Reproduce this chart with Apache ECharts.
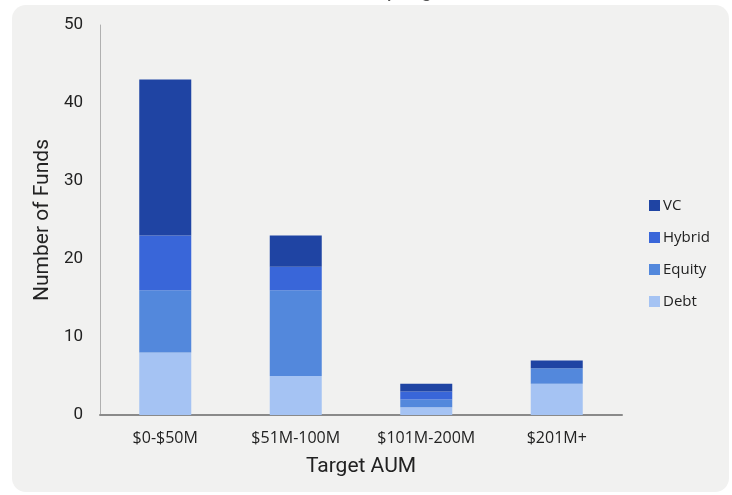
<!DOCTYPE html>
<html>
<head>
<meta charset="utf-8">
<script src="https://cdn.jsdelivr.net/npm/echarts@6/dist/echarts.min.js"></script>
<style>
  html, body { margin: 0; padding: 0; background: #ffffff; }
  #chart { width: 732px; height: 495px; }
</style>
</head>
<body>
<div id="chart"></div>
<script>
// Fund counts by target AUM bucket, stacked by strategy
const categories = ['$0-$50M', '$51M-100M', '$101M-200M', '$201M+'];
const debt   = [8, 5, 1, 4];
const equity = [8, 11, 1, 2];
const hybrid = [7, 3, 1, 0];
const vc     = [20, 4, 1, 1];
const yTicks = [0, 10, 20, 30, 40, 50];

const colors = {
  Debt: '#a5c3f3',
  Equity: '#5388dc',
  Hybrid: '#3966d9',
  VC: '#1f44a3'
};

const chart = echarts.init(document.getElementById('chart'));

function barSeries(name, data) {
  return {
    name: name,
    type: 'bar',
    stack: 'funds',
    data: data,
    barWidth: 52,
    itemStyle: { color: colors[name] }
  };
}

chart.setOption({
  animation: false,
  backgroundColor: '#ffffff',
  graphic: [{
    type: 'rect',
    z: -10,
    shape: { x: 12, y: 5, width: 717, height: 487, r: 14 },
    style: { fill: '#f1f1f0' }
  }],
  title: {
    text: 'Number of Funds by Target AUM',
    left: 'center',
    top: -21,
    textStyle: { fontFamily: 'Lato', fontSize: 17, fontWeight: 'bold', color: '#555555' }
  },
  legend: {
    orient: 'vertical',
    left: 644,
    top: 193,
    itemWidth: 11,
    itemHeight: 11,
    itemGap: 17,
    icon: 'rect',
    data: ['VC', 'Hybrid', 'Equity', 'Debt'],
    textStyle: { fontFamily: 'Open Sans', fontSize: 15, color: '#222222', padding: [0, 0, 0, -2] }
  },
  grid: { left: 100, right: 110, top: 25, bottom: 80 },
  xAxis: {
    type: 'category',
    data: categories,
    name: 'Target AUM',
    nameLocation: 'middle',
    nameGap: 41,
    nameMoveOverlap: false,
    nameTextStyle: { fontFamily: 'Roboto', fontSize: 21, color: '#222222' },
    axisLine: { lineStyle: { color: '#8a8a8a', width: 2 } },
    axisTick: { show: false },
    axisLabel: { fontFamily: 'Open Sans', fontSize: 16, color: '#222222', margin: 15 }
  },
  yAxis: {
    type: 'value',
    min: yTicks[0],
    max: yTicks[yTicks.length - 1],
    interval: 10,
    name: 'Number of Funds',
    nameLocation: 'middle',
    nameGap: 47,
    nameMoveOverlap: false,
    nameTextStyle: { fontFamily: 'Roboto', fontSize: 21, color: '#222222' },
    axisLine: { show: true, lineStyle: { color: '#b0b0b0', width: 1 } },
    axisTick: { show: false },
    splitLine: { show: false },
    axisLabel: { fontFamily: 'Roboto', fontSize: 17, color: '#222222', margin: 17 }
  },
  series: [
    barSeries('Debt', debt),
    barSeries('Equity', equity),
    barSeries('Hybrid', hybrid),
    barSeries('VC', vc)
  ]
});
</script>
</body>
</html>
